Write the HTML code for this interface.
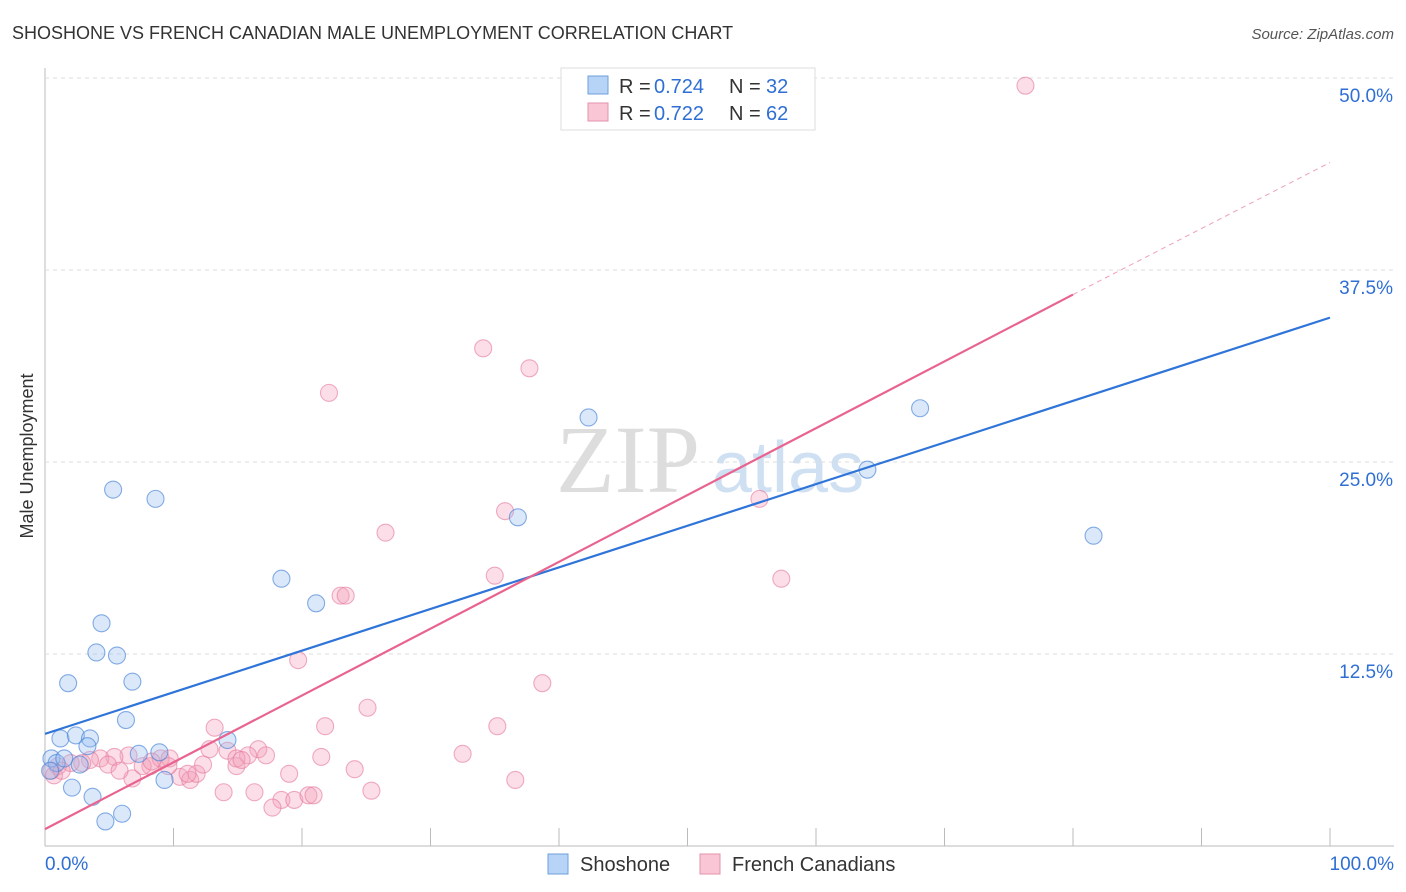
<!DOCTYPE html>
<html><head><meta charset="utf-8"><style>
body{margin:0;background:#fff;font-family:"Liberation Sans",sans-serif;}
svg{display:block}
</style></head><body>
<svg id="chart" width="1406" height="892">
<text x="12" y="39" font-size="18" fill="#333">SHOSHONE VS FRENCH CANADIAN MALE UNEMPLOYMENT CORRELATION CHART</text>
<text x="1394" y="39" font-size="15" fill="#555" font-style="italic" text-anchor="end">Source: ZipAtlas.com</text>
<text transform="translate(33,456) rotate(-90)" font-size="18" fill="#333" text-anchor="middle">Male Unemployment</text>
<text x="700" y="492" font-size="96" fill="#ddd" font-family="Liberation Serif,serif" text-anchor="end">ZIP</text>
<text x="712" y="492" font-size="72" fill="#cfe0f3" text-anchor="start">atlas</text>
<g id="grid"></g><g id="pts"></g><g id="lines"></g>
<g>
<rect x="561" y="68" width="254" height="62" fill="#fff" stroke="#ddd"/>
<rect x="588" y="76" width="20" height="18" fill="#b7d3f5" stroke="#6f9fdc"/>
<text x="619" y="93" font-size="20" fill="#333">R =</text>
<text x="654" y="93" font-size="20" fill="#2f6fd4">0.724</text>
<text x="729" y="93" font-size="20" fill="#333">N =</text>
<text x="766" y="93" font-size="20" fill="#2f6fd4">32</text>
<rect x="588" y="103" width="20" height="18" fill="#f8c6d5" stroke="#e592ad"/>
<text x="619" y="120" font-size="20" fill="#333">R =</text>
<text x="654" y="120" font-size="20" fill="#2f6fd4">0.722</text>
<text x="729" y="120" font-size="20" fill="#333">N =</text>
<text x="766" y="120" font-size="20" fill="#2f6fd4">62</text>
</g>
<g>
<rect x="548" y="854" width="20" height="20" fill="#b7d3f5" stroke="#6f9fdc"/>
<text x="580" y="871" font-size="20" fill="#333">Shoshone</text>
<rect x="700" y="854" width="20" height="20" fill="#f8c6d5" stroke="#e592ad"/>
<text x="732" y="871" font-size="20" fill="#333">French Canadians</text>
</g>
<text x="45" y="870" font-size="19" fill="#2f6fd4">0.0%</text>
<text x="1394" y="870" font-size="19" fill="#2f6fd4" text-anchor="end">100.0%</text>
</svg>
<script>
const yTicks=[12.5,25,37.5,50];
const yTickLabels=["12.5%","25.0%","37.5%","50.0%"];
const blueX=[5.3,8.6,4.4,4.0,5.6,1.8,6.8,6.3,1.2,2.4,3.5,3.3,7.3,8.9,14.2,9.3,2.1,3.7,4.7,6.0,18.4,21.1,36.8,42.3,64.0,68.1,81.6,0.5,0.9,2.7,0.4,1.5];
const blueY=[23.2,22.6,14.5,12.6,12.4,10.6,10.7,8.2,7.0,7.2,7.0,6.5,6.0,6.1,6.9,4.3,3.8,3.2,1.6,2.1,17.4,15.8,21.4,27.9,24.5,28.5,20.2,5.7,5.4,5.3,4.9,5.7];
const pinkX=[76.3,34.1,37.7,22.1,26.5,35.8,55.6,35.0,57.3,23.0,23.4,19.7,38.7,25.1,13.2,21.8,35.2,12.8,14.2,16.6,17.2,15.8,21.5,32.5,24.1,14.9,19.0,36.6,13.9,16.3,25.4,18.4,19.4,20.5,20.9,17.7,10.5,11.3,11.8,11.1,6.8,6.5,5.4,4.3,3.5,2.9,2.0,1.0,0.5,0.7,1.3,4.9,5.8,8.2,7.6,9.0,9.7,9.6,12.3,14.9,15.3,8.3];
const pinkY=[49.5,32.4,31.1,29.5,20.4,21.8,22.6,17.6,17.4,16.3,16.3,12.1,10.6,9.0,7.7,7.8,7.8,6.3,6.2,6.3,5.9,5.9,5.8,6.0,5.0,5.2,4.7,4.3,3.5,3.5,3.6,3.0,3.0,3.3,3.3,2.5,4.5,4.3,4.7,4.7,4.4,5.9,5.8,5.7,5.6,5.4,5.4,5.2,4.9,4.6,4.9,5.3,4.9,5.2,5.2,5.7,5.7,5.2,5.3,5.7,5.6,5.5];
const blueLine=[0,7.3,100,34.4];
const pinkLine=[0,1.1,80,35.9,100,44.5];
const X=v=>45+v*12.85, Y=v=>846-v*15.36;
const NS="http://www.w3.org/2000/svg";
function mk(tag,attrs,parent){const e=document.createElementNS(NS,tag);for(const k in attrs)e.setAttribute(k,attrs[k]);parent.appendChild(e);return e;}
const grid=document.getElementById('grid');
let ax=mk('line',{x1:45,y1:68,x2:45,y2:846,stroke:'#bbb'},grid);


let bx=mk('line',{x1:45,y1:846,x2:1394,y2:846,stroke:'#bbb'},grid);


for(let i=1;i<=10;i++){let t=mk('line',{x1:X(i*10),y1:828,x2:X(i*10),y2:846,stroke:'#bbb'},grid);

}
yTicks.forEach((v,i)=>{let g=mk('line',{x1:45,y1:Y(v),x2:1394,y2:Y(v),stroke:'#ddd','stroke-dasharray':'4,4'},grid);


let t=mk('text',{x:1393,y:Y(v)+24,'font-size':19,fill:'#2f6fd4','text-anchor':'end'},grid);t.textContent=yTickLabels[i];

});
const pts=document.getElementById('pts');
pinkX.forEach((x,i)=>{let c=mk('circle',{cx:X(x),cy:Y(pinkY[i]),r:8.5,fill:'rgba(244,160,187,0.35)',stroke:'rgba(230,120,155,0.6)','stroke-width':1.1},pts);

});
blueX.forEach((x,i)=>{let c=mk('circle',{cx:X(x),cy:Y(blueY[i]),r:8.5,fill:'rgba(150,190,240,0.35)',stroke:'rgba(70,130,215,0.65)','stroke-width':1.1},pts);

});
const L=document.getElementById('lines');
let b=mk('line',{x1:X(blueLine[0]),y1:Y(blueLine[1]),x2:X(blueLine[2]),y2:Y(blueLine[3]),stroke:'#2f74d8','stroke-width':2.2},L);


let p=mk('line',{x1:X(pinkLine[0]),y1:Y(pinkLine[1]),x2:X(pinkLine[2]),y2:Y(pinkLine[3]),stroke:'#e8648e','stroke-width':2.2},L);


let pd=mk('line',{x1:X(pinkLine[2]),y1:Y(pinkLine[3]),x2:X(pinkLine[4]),y2:Y(pinkLine[5]),stroke:'#f0a0b8','stroke-width':1,'stroke-dasharray':'5,4'},L);


</script>
</body></html>
